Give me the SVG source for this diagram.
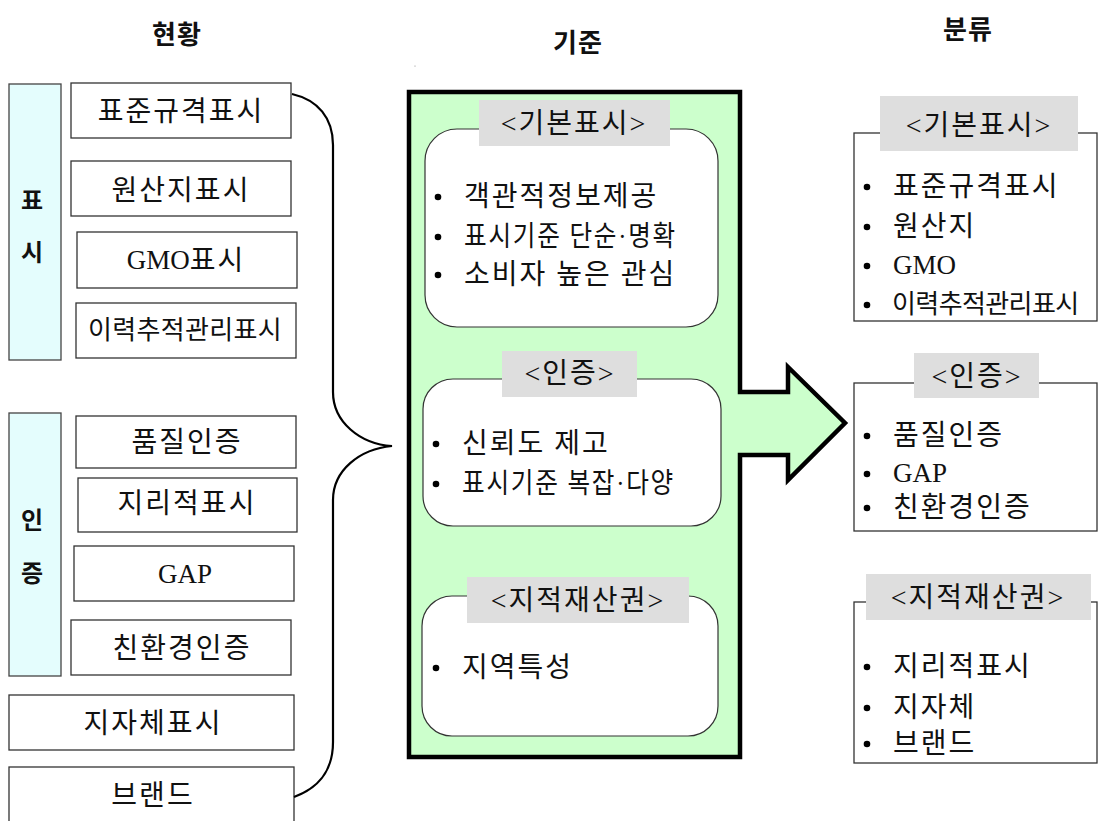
<svg xmlns="http://www.w3.org/2000/svg" width="1098" height="821" viewBox="0 0 1098 821">
  <style>
    text { font-family: "Liberation Serif", "Noto Sans CJK KR", serif; fill: #111; dominant-baseline: central; }
    .title { font-family: "Noto Sans CJK KR", sans-serif; font-size: 26px; font-weight: bold; letter-spacing: 1px; text-anchor: middle; }
    .side { font-family: "Noto Sans CJK KR", sans-serif; font-size: 24px; font-weight: bold; text-anchor: middle; }
    .lbl { font-size: 28px; letter-spacing: 2px; text-anchor: middle; }
    .item { font-size: 28px; letter-spacing: 2px; }
    .lat { letter-spacing: 0; font-size: 27px; }
    .tight { font-size: 26px; letter-spacing: -0.6px; }
    .dot { fill: #000; }
    .box { fill: #fff; stroke: #333; stroke-width: 1.3; }
    .bar { fill: #e4fdfd; stroke: #444; stroke-width: 1.3; }
    .card { fill: #fff; stroke: #333; stroke-width: 1.2; }
    .tag { fill: #dedede; }
    .conn { fill: none; stroke: #000; stroke-width: 2.2; }
  </style>

  <!-- column titles -->
  <text class="title" x="177" y="32">현황</text>
  <text class="title" x="578" y="40">기준</text>
  <text class="title" x="968" y="27">분류</text>
  <circle cx="415" cy="66" r="0.6" fill="#888"/>

  <!-- left column: current labelling -->
  <g id="group-pyosi">
    <rect class="bar" x="9" y="84" width="52" height="276"/>
    <text class="side" x="32" y="198">표</text>
    <text class="side" x="32" y="250">시</text>
  </g>
  <g id="group-injeung">
    <rect class="bar" x="9" y="413" width="52" height="263"/>
    <text class="side" x="32" y="518">인</text>
    <text class="side" x="32" y="571">증</text>
  </g>
  <g id="node-standard">
    <rect class="box" x="71" y="83" width="220" height="55"/>
    <text class="lbl" x="181" y="111">표준규격표시</text>
  </g>
  <g id="node-origin">
    <rect class="box" x="71" y="161" width="220" height="55"/>
    <text class="lbl" x="181" y="190">원산지표시</text>
  </g>
  <g id="node-gmo">
    <rect class="box" x="77" y="232" width="220" height="56"/>
    <text class="lbl" x="186" y="260"><tspan class="lat">GMO</tspan>표시</text>
  </g>
  <g id="node-trace">
    <rect class="box" x="76" y="303" width="220" height="55"/>
    <text class="lbl" x="185" y="330" style="font-size:26px;letter-spacing:0.3px">이력추적관리표시</text>
  </g>
  <g id="node-quality">
    <rect class="box" x="76" y="416" width="220" height="52"/>
    <text class="lbl" x="187" y="442">품질인증</text>
  </g>
  <g id="node-geo">
    <rect class="box" x="78" y="478" width="219" height="54"/>
    <text class="lbl" x="187" y="503">지리적표시</text>
  </g>
  <g id="node-gap">
    <rect class="box" x="74" y="546" width="220" height="55"/>
    <text class="lbl lat" x="185" y="574">GAP</text>
  </g>
  <g id="node-eco">
    <rect class="box" x="71" y="620" width="220" height="55"/>
    <text class="lbl" x="182" y="648">친환경인증</text>
  </g>
  <g id="node-local">
    <rect class="box" x="9" y="695" width="285" height="55"/>
    <text class="lbl" x="153" y="723">지자체표시</text>
  </g>
  <g id="node-brand">
    <rect class="box" x="9" y="767" width="285" height="60"/>
    <text class="lbl" x="153" y="795">브랜드</text>
  </g>

  <!-- connectors: brace and block arrow -->
  <g id="connectors">
    <path class="conn" d="M292,94 C318,100 333,118 333,145 L333,392 C333,422 360,444 392,446 C360,449 333,470 333,500 L333,742 C333,772 318,788 294,797"/>
    <path d="M409,92 L740,92 L740,392 L788,392 L788,367 L845,423 L788,480 L788,455 L740,455 L740,757 L409,757 Z" fill="#ccffcc" stroke="#000" stroke-width="4.5" stroke-linejoin="miter"/>
  </g>

  <!-- middle column: criteria -->
  <g id="crit-basic">
    <rect class="card" x="425" y="129" width="293" height="198" rx="32" ry="32"/>
    <rect class="tag" x="479" y="100" width="191" height="46"/>
    <text class="lbl" x="574" y="123">&lt;기본표시&gt;</text>
    <circle class="dot" cx="438" cy="197" r="3.3"/>
    <text class="item" x="464" y="196">객관적정보제공</text>
    <circle class="dot" cx="438" cy="237" r="3.3"/>
    <text class="item" x="464" y="236" textLength="213" lengthAdjust="spacingAndGlyphs">표시기준 단순·명확</text>
    <circle class="dot" cx="438" cy="275" r="3.3"/>
    <text class="item" x="464" y="274">소비자 높은 관심</text>
  </g>
  <g id="crit-cert">
    <rect class="card" x="423" y="379" width="298" height="147" rx="30" ry="30"/>
    <rect class="tag" x="502" y="351" width="135" height="46"/>
    <text class="lbl" x="570" y="373">&lt;인증&gt;</text>
    <circle class="dot" cx="436" cy="444" r="3.3"/>
    <text class="item" x="462" y="443">신뢰도 제고</text>
    <circle class="dot" cx="436" cy="484" r="3.3"/>
    <text class="item" x="462" y="483" textLength="213" lengthAdjust="spacingAndGlyphs">표시기준 복잡·다양</text>
  </g>
  <g id="crit-ip">
    <rect class="card" x="422" y="596" width="296" height="140" rx="30" ry="30"/>
    <rect class="tag" x="467" y="577" width="222" height="46"/>
    <text class="lbl" x="578" y="600">&lt;지적재산권&gt;</text>
    <circle class="dot" cx="436" cy="668" r="3.3"/>
    <text class="item" x="462" y="667">지역특성</text>
  </g>

  <!-- right column: classification -->
  <g id="class-basic">
    <rect class="box" x="854" y="133" width="243" height="188"/>
    <rect class="tag" x="880" y="96" width="198" height="55"/>
    <text class="lbl" x="979" y="125">&lt;기본표시&gt;</text>
    <circle class="dot" cx="867" cy="187" r="3.3"/>
    <text class="item" x="893" y="186">표준규격표시</text>
    <circle class="dot" cx="867" cy="227" r="3.3"/>
    <text class="item" x="893" y="226">원산지</text>
    <circle class="dot" cx="867" cy="266" r="3.3"/>
    <text class="item lat" x="893" y="265">GMO</text>
    <circle class="dot" cx="867" cy="305" r="3.3"/>
    <text class="item tight" x="892" y="304">이력추적관리표시</text>
  </g>
  <g id="class-cert">
    <rect class="box" x="854" y="383" width="243" height="148"/>
    <rect class="tag" x="914" y="353" width="125" height="45"/>
    <text class="lbl" x="977" y="376">&lt;인증&gt;</text>
    <circle class="dot" cx="867" cy="436" r="3.3"/>
    <text class="item" x="893" y="435">품질인증</text>
    <circle class="dot" cx="867" cy="474" r="3.3"/>
    <text class="item lat" x="893" y="473">GAP</text>
    <circle class="dot" cx="867" cy="508" r="3.3"/>
    <text class="item" x="893" y="507">친환경인증</text>
  </g>
  <g id="class-ip">
    <rect class="box" x="854" y="602" width="243" height="161"/>
    <rect class="tag" x="866" y="574" width="225" height="46"/>
    <text class="lbl" x="978" y="597">&lt;지적재산권&gt;</text>
    <circle class="dot" cx="867" cy="667" r="3.3"/>
    <text class="item" x="893" y="666">지리적표시</text>
    <circle class="dot" cx="867" cy="708" r="3.3"/>
    <text class="item" x="893" y="707">지자체</text>
    <circle class="dot" cx="867" cy="744" r="3.3"/>
    <text class="item" x="893" y="743">브랜드</text>
  </g>
</svg>
